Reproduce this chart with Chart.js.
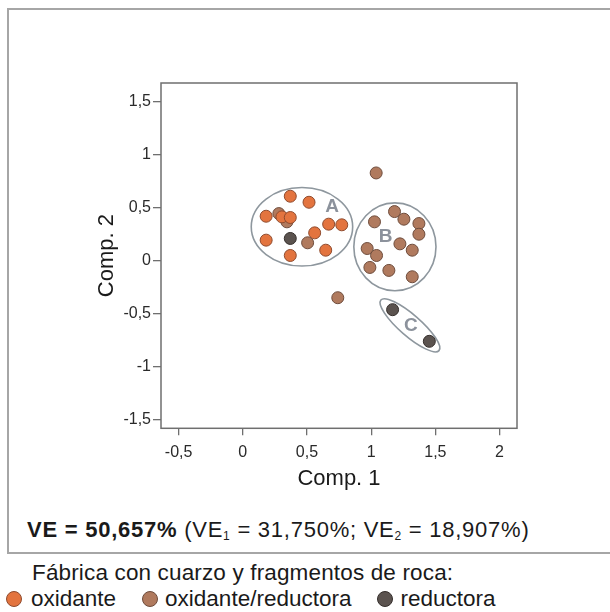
<!DOCTYPE html>
<html>
<head>
<meta charset="utf-8">
<script src="https://cdn.jsdelivr.net/npm/chart.js@4.4.1/dist/chart.umd.min.js"></script>
<style>
	body { margin: 0; width: 610px; height: 612px; overflow: hidden; background: #fff; font-family: "Liberation Sans", Arial, sans-serif; color: #1a1a1a; }
	#frame { position: absolute; left: 7px; top: 8px; width: 620px; height: 546px; border: 2px solid #a6a6a6; box-sizing: border-box; }
	#wrap { position: absolute; left: 0; top: 0; width: 610px; height: 500px; }
	#ve { position: absolute; left: 27px; top: 517px; font-size: 22px; letter-spacing: 0.75px; white-space: nowrap; }
	#ve sub { font-size: 12px; vertical-align: -3px; }
	#caption { position: absolute; left: 32px; top: 560px; font-size: 22.5px; letter-spacing: 0.15px; white-space: nowrap; }
	#legend { position: absolute; left: 6px; top: 586px; font-size: 22.5px; white-space: nowrap; }
	#legend span.item { display: inline-block; }
	#legend span.dot { display: inline-block; width: 16px; height: 16px; border-radius: 50%; vertical-align: -1px; margin-right: 7px; margin-left: 26px; box-sizing: border-box; }
	#legend span.item:first-child span.dot { margin-left: 0; margin-right: 9px; }
</style>
</head>
<body>
<div id="frame"></div>
<div id="wrap"><canvas id="pca" width="610" height="500"></canvas></div>
<div id="ve"><b>VE = 50,657%</b> (VE<sub>1</sub> = 31,750%; VE<sub>2</sub> = 18,907%)</div>
<div id="caption">Fábrica con cuarzo y fragmentos de roca:</div>
<div id="legend"></div>
<script>
// scores: [Comp. 1, Comp. 2]
let oxidante = [
	[0.182, 0.418], [0.182, 0.192], [0.305, 0.412], [0.370, 0.607],
	[0.370, 0.406], [0.370, 0.047], [0.516, 0.550], [0.560, 0.261],
	[0.669, 0.343], [0.771, 0.337], [0.646, 0.097]
]
let oxidanteReductora = [
	[0.281, 0.443], [0.344, 0.365], [0.505, 0.167], [0.740, -0.352],
	[1.039, 0.827], [1.182, 0.462], [1.255, 0.390], [1.026, 0.365],
	[1.372, 0.349], [1.372, 0.248], [1.224, 0.157], [1.320, 0.097],
	[0.969, 0.113], [1.042, 0.047], [0.990, -0.066], [1.138, -0.094],
	[1.320, -0.154]
]
let reductora = [
	[0.370, 0.208], [1.167, -0.465], [1.453, -0.764]
]
let seriesNames = ['oxidante', 'oxidante/reductora', 'reductora']
let xTicks = [-0.5, 0, 0.5, 1, 1.5, 2]
let yTicks = [-1.5, -1, -0.5, 0, 0.5, 1, 1.5]
// groups: centre, half axes (x units, y units), tilt in degrees
let groupNames = ['A', 'B', 'C']
let groupCentres = [[0.461, 0.318], [1.185, 0.129], [1.302, -0.613]]
let groupAxes = [[0.395, 0.371], [0.320, 0.415], [0.300, 0.100]]
let groupTilt = [0, 0, 41]
let groupLabels = [[0.695, 0.506], [1.112, 0.223], [1.310, -0.620]]

const fills = ['#e3743f', '#b07a5e', '#5b534f']
const borders = ['#8f4b2e', '#6e4c3c', '#352f2c']

function toPoints(arr) {
	return arr.map(p => ({x: p[0], y: p[1]}))
}

function comma(v) {
	return String(v).replace('.', ',')
}

const groupsPlugin = {
	id: 'groups',
	beforeDatasetsDraw(chart) {
		let ctx = chart.ctx
		let xs = chart.scales.x, ys = chart.scales.y
		ctx.save()
		ctx.strokeStyle = '#8e979e'
		ctx.lineWidth = 1.6
		for (let i = 0; i < groupNames.length; i++) {
			let cx = xs.getPixelForValue(groupCentres[i][0])
			let cy = ys.getPixelForValue(groupCentres[i][1])
			let rx = Math.abs(xs.getPixelForValue(groupCentres[i][0] + groupAxes[i][0]) - cx)
			let ry = Math.abs(ys.getPixelForValue(groupCentres[i][1] + groupAxes[i][1]) - cy)
			ctx.beginPath()
			ctx.ellipse(cx, cy, rx, ry, groupTilt[i] * Math.PI / 180, 0, Math.PI * 2)
			ctx.stroke()
		}
		ctx.fillStyle = '#8c929c'
		ctx.font = 'bold 19px "Liberation Sans", Arial, sans-serif'
		ctx.textAlign = 'center'
		ctx.textBaseline = 'middle'
		for (let i = 0; i < groupNames.length; i++) {
			ctx.fillText(groupNames[i], xs.getPixelForValue(groupLabels[i][0]), ys.getPixelForValue(groupLabels[i][1]))
		}
		ctx.restore()
	},
	afterDraw(chart) {
		let a = chart.chartArea
		let ctx = chart.ctx
		ctx.save()
		ctx.strokeStyle = '#6f6f6f'
		ctx.lineWidth = 1.5
		ctx.strokeRect(a.left, a.top, a.right - a.left, a.bottom - a.top)
		ctx.restore()
	}
}

function build_legend() {
	let root = document.getElementById('legend')
	for (let i = 0; i < seriesNames.length; i++) {
		let item = document.createElement('span')
		item.classList.add('item')
		let dot = document.createElement('span')
		dot.classList.add('dot')
		dot.style.background = fills[i]
		dot.style.border = '1px solid ' + borders[i]
		item.appendChild(dot)
		item.appendChild(document.createTextNode(seriesNames[i]))
		root.appendChild(item)
	}
}

window.onload = function() {
	build_legend()
	let sets = [oxidante, oxidanteReductora, reductora]
	new Chart('pca', {
		type: 'scatter',
		data: {
			datasets: sets.map((s, i) => ({
				label: seriesNames[i],
				data: toPoints(s),
				backgroundColor: fills[i],
				borderColor: borders[i],
				borderWidth: 1,
				pointRadius: 6,
				pointHoverRadius: 6
			}))
		},
		options: {
			responsive: false,
			animation: false,
			devicePixelRatio: 1,
			layout: { padding: { left: 90, top: 83, right: 93, bottom: 4 } },
			plugins: { legend: { display: false }, tooltip: { enabled: false } },
			scales: {
				x: {
					type: 'linear',
					min: -0.637,
					max: 2.136,
					afterBuildTicks: s => { s.ticks = xTicks.map(v => ({value: v})) },
					afterFit: s => { s.height = 67.7 },
					grid: { drawOnChartArea: false, drawTicks: true, tickLength: 7, color: '#6f6f6f', lineWidth: 1.3 },
					border: { display: false },
					ticks: { color: '#2a2a2a', padding: 8, font: { size: 16, family: '"Liberation Sans", Arial' }, callback: v => comma(v), maxRotation: 0 },
					title: { display: true, text: 'Comp. 1', color: '#1a1a1a', font: { size: 22, family: '"Liberation Sans", Arial' } }
				},
				y: {
					type: 'linear',
					min: -1.586,
					max: 1.677,
					afterBuildTicks: s => { s.ticks = yTicks.map(v => ({value: v})) },
					afterFit: s => { s.width = 71 },
					grid: { drawOnChartArea: false, drawTicks: true, tickLength: 8, color: '#6f6f6f', lineWidth: 1.3 },
					border: { display: false },
					ticks: { color: '#2a2a2a', padding: 2, font: { size: 16, family: '"Liberation Sans", Arial' }, callback: v => comma(v) },
					title: { display: true, text: 'Comp. 2', color: '#1a1a1a', font: { size: 22, family: '"Liberation Sans", Arial' } }
				}
			}
		},
		plugins: [groupsPlugin]
	})
}
</script>
</body>
</html>
